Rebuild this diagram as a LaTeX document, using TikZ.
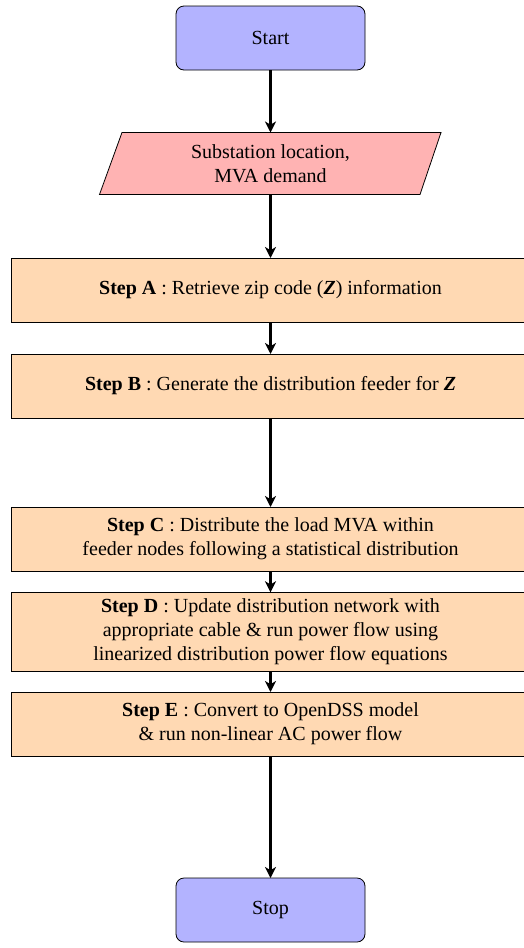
\documentclass[tikz,border=0pt]{standalone}
\usepackage{fontspec}
\setmainfont{Liberation Serif}
\usetikzlibrary{arrows.meta}
\definecolor{startfill}{RGB}{179,179,255}
\definecolor{iofill}{RGB}{255,179,179}
\definecolor{stepfill}{RGB}{255,217,179}
\tikzset{
  startstop/.style={draw, rounded corners=4pt, fill=startfill, minimum width=94.5pt, minimum height=32pt, align=center, outer sep=0pt},
  stepbox/.style={draw, fill=stepfill, minimum width=259.5pt, minimum height=32pt, align=center, outer sep=0pt},
  iotext/.style={minimum width=150pt, minimum height=31pt, align=center, outer sep=0pt, inner sep=0pt},
  flowarrow/.style={line width=1.2pt, -{Stealth[length=5.5pt,width=5.5pt,inset=1.6pt]}}
}
\begin{document}
\begin{tikzpicture}[x=0.5pt,y=-0.5pt]
\useasboundingbox (0,0) rectangle (524,948);
% start
\node[startstop] (start) at (270.5,38) {Start};
% input parallelogram
\filldraw[draw=black, fill=iofill] (122,132.5) -- (441,132.5) -- (420,194.5) -- (99.5,194.5) -- cycle;
\node[iotext] (input) at (270.5,163.5) {Substation location,\\MVA demand};
% steps
\node[stepbox] (A) at (270.5,290) {\textbf{Step A} : Retrieve zip code (\textbf{\textit{Z}}) information};
\node[stepbox] (B) at (270.5,386) {\textbf{Step B} : Generate the distribution feeder for \textbf{\textit{Z}}};
\node[stepbox] (C) at (270.5,539) {\textbf{Step C} : Distribute the load MVA within\\feeder nodes following a statistical distribution};
\node[stepbox] (D) at (270.5,632) {\textbf{Step D} : Update distribution network with\\appropriate cable \& run power flow using\\linearized distribution power flow equations};
\node[stepbox] (E) at (270.5,724) {\textbf{Step E} : Convert to OpenDSS model\\\& run non-linear AC power flow};
\node[startstop] (stop) at (270.5,910) {Stop};
% arrows
\draw[flowarrow] (start) -- (input);
\draw[flowarrow] (input) -- (A);
\draw[flowarrow] (A) -- (B);
\draw[flowarrow] (B) -- (C);
\draw[flowarrow] (C) -- (D);
\draw[flowarrow] (D) -- (E);
\draw[flowarrow] (E) -- (stop);
\end{tikzpicture}
\end{document}
